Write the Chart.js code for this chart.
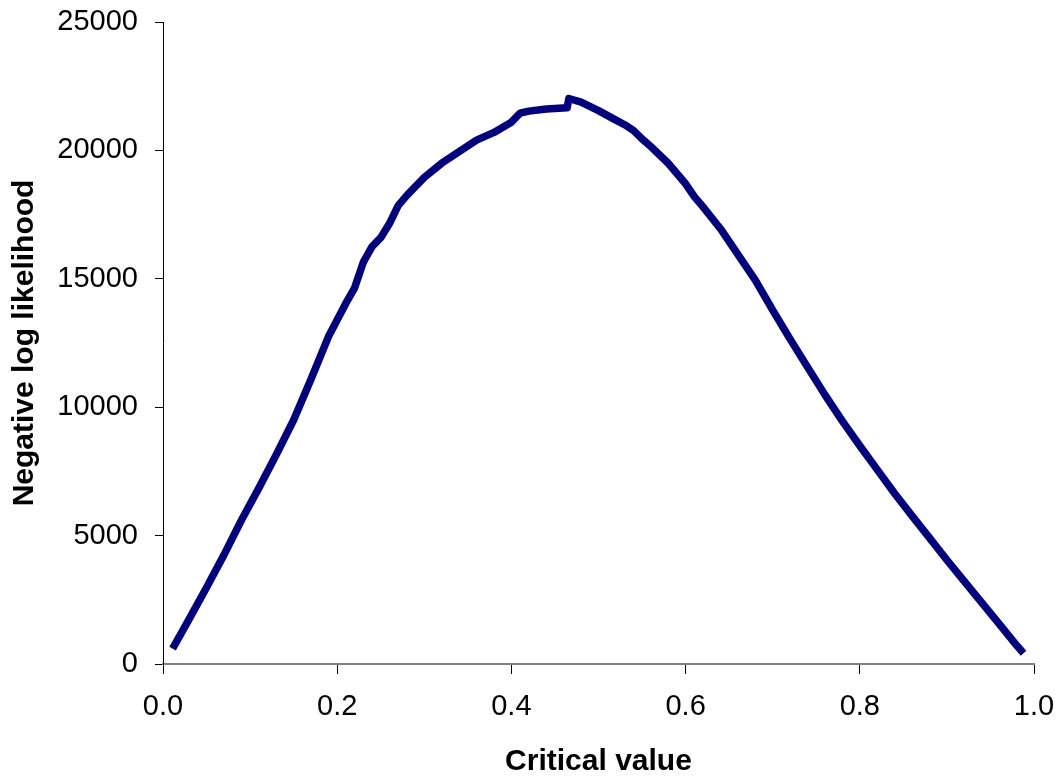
<!DOCTYPE html>
<html>
<head>
<meta charset="utf-8">
<script src="https://cdn.jsdelivr.net/npm/chart.js@4.4.1/dist/chart.umd.min.js"></script>
<style>
  body { margin: 0; background: #fff; }
  #wrap { width: 1062px; height: 778px; }
</style>
</head>
<body>
<div id="wrap"><canvas id="chart" width="1062" height="778"></canvas></div>
<script>
// critical value vs negative log likelihood
const critical = [0.011, 0.03, 0.05, 0.07, 0.09, 0.11, 0.13, 0.15, 0.17, 0.19,
    0.21, 0.22, 0.23, 0.24, 0.25, 0.26, 0.27, 0.28, 0.30, 0.32,
    0.34, 0.36, 0.38, 0.40, 0.41, 0.42, 0.44, 0.464, 0.466, 0.48,
    0.50, 0.52, 0.53, 0.54, 0.55, 0.56, 0.58, 0.60, 0.61, 0.62,
    0.64, 0.66, 0.68, 0.70, 0.72, 0.74, 0.76, 0.78, 0.80, 0.82,
    0.84, 0.86, 0.88, 0.90, 0.92, 0.94, 0.96, 0.98, 0.988];
const negLogLik = [600, 1750, 2980, 4250, 5600, 6850, 8150, 9500, 11100, 12750,
    14050, 14650, 15650, 16250, 16600, 17150, 17850, 18250, 18950, 19500,
    19950, 20400, 20700, 21100, 21450, 21530, 21610, 21660, 22020, 21880,
    21550, 21180, 21000, 20780, 20450, 20150, 19500, 18700, 18200, 17800,
    16950, 15950, 14950, 13780, 12650, 11560, 10480, 9460, 8500, 7570,
    6640, 5770, 4910, 4050, 3220, 2390, 1560, 730, 420];
const xTicks = [0, 0.2, 0.4, 0.6, 0.8, 1.0];
const yTicks = [0, 5000, 10000, 15000, 20000, 25000];

const FONT = "'Liberation Sans', Arial, sans-serif";

var points = [];
for (var i = 0; i < critical.length; i++)
    points.push({ x: critical[i], y: negLogLik[i] });

new Chart(document.getElementById("chart"), {
    type: 'line',
    data: {
        datasets: [{
            data: points,
            borderColor: "#000080",
            borderWidth: 7.5,
            borderCapStyle: 'butt',
            borderJoinStyle: 'round',
            pointRadius: 0,
            tension: 0,
            fill: false
        }]
    },
    options: {
        responsive: false,
        animation: false,
        layout: { padding: { top: 22, right: 28, bottom: 0, left: 0 } },
        plugins: { legend: { display: false }, tooltip: { enabled: false } },
        scales: {
            x: {
                type: 'linear',
                min: 0, max: 1,
                afterBuildTicks: function (s) { s.ticks = xTicks.map(v => ({ value: v })); },
                afterFit: function (s) {
                    s.height = 114;
                    s.paddingLeft = 0;
                    s.paddingRight = 0;  // let layout padding decide the plot edges
                },
                ticks: {
                    color: "#000",
                    font: { family: FONT, size: 29 },
                    padding: 16,
                    maxRotation: 0,
                    callback: v => v.toFixed(1)
                },
                grid: { drawOnChartArea: false, drawTicks: true, tickLength: 10, color: "#000" },
                border: { display: true, color: "#808080", width: 2 },
                title: {
                    display: true,
                    text: "Critical value",
                    color: "#000",
                    font: { family: FONT, size: 30, weight: 'bold' },
                    padding: { top: 0, bottom: -2 }
                }
            },
            y: {
                min: 0, max: 25000,
                afterBuildTicks: function (s) { s.ticks = yTicks.map(v => ({ value: v })); },
                afterFit: function (s) {
                    s.width = 163;
                    s.paddingTop = 0;
                    s.paddingBottom = 0;
                },
                ticks: {
                    color: "#000",
                    font: { family: FONT, size: 29 },
                    padding: 17,
                    callback: v => String(v)
                },
                grid: { drawOnChartArea: false, drawTicks: true, tickLength: 8, color: "#000" },
                border: { display: true, color: "#000", width: 1 },
                title: {
                    display: true,
                    text: "Negative log likelihood",
                    color: "#000",
                    font: { family: FONT, size: 30, weight: 'bold' },
                    padding: { top: 7, bottom: 0 }
                }
            }
        }
    }
});
</script>
</body>
</html>
